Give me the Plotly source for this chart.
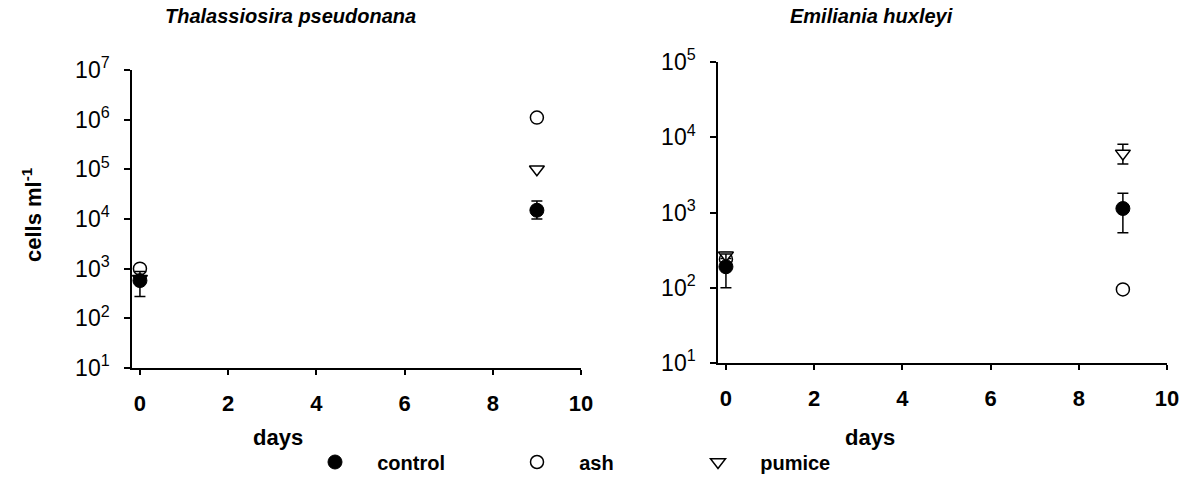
import plotly.graph_objects as go

# ---- data ----
days = [0, 9]

# Thalassiosira pseudonana
tp_control = [575, 15000]
tp_control_plus = [300, 8000]
tp_control_minus = [300, 5000]
tp_ash = [1000, 1100000]
tp_pumice = [630, 100000]

# Emiliania huxleyi
eh_control = [190, 1130]
eh_control_plus = [90, 670]
eh_control_minus = [90, 590]
eh_ash = [240, 95]
eh_pumice = [270, 6100]
eh_pumice_plus = [25, 2000]
eh_pumice_minus = [25, 1700]

left_yticks = [10**k for k in range(1, 8)]
left_yticktext = ["10<sup>%d</sup>" % k for k in range(1, 8)]
right_yticks = [10**k for k in range(1, 6)]
right_yticktext = ["10<sup>%d</sup>" % k for k in range(1, 6)]
xticks = [0, 2, 4, 6, 8, 10]

FONT = "Liberation Sans, Arial, sans-serif"
NB = "\u00a0"
W, H = 1186, 490


def px(X):
    return X / W


def py(Y):
    return 1 - Y / H


fig = go.Figure()


def err(plus, minus=None):
    d = dict(type="data", array=plus, visible=True, color="black",
             thickness=1.5, width=5.5)
    if minus is not None:
        d["symmetric"] = False
        d["arrayminus"] = minus
    return d


open_line = dict(color="black", width=1.5)

# left panel
fig.add_trace(go.Scatter(x=days, y=tp_ash, mode="markers", xaxis="x", yaxis="y",
                         marker=dict(symbol="circle", size=13, color="white", line=open_line),
                         name=NB * 4 + "ash", legend="legend2", showlegend=True))
fig.add_trace(go.Scatter(x=days, y=tp_pumice, mode="markers", xaxis="x", yaxis="y",
                         marker=dict(symbol="triangle-down", size=13, color="white", line=open_line),
                         name=NB * 4 + "pumice", legend="legend3", showlegend=True))
fig.add_trace(go.Scatter(x=days, y=tp_control, mode="markers", xaxis="x", yaxis="y",
                         error_y=err(tp_control_plus, tp_control_minus),
                         marker=dict(symbol="circle", size=14, color="black", line=dict(color="black", width=1)),
                         name=NB * 4 + "control", legend="legend", showlegend=True))

# right panel
fig.add_trace(go.Scatter(x=days, y=eh_ash, mode="markers", xaxis="x2", yaxis="y2",
                         marker=dict(symbol="circle", size=13, color="white", line=open_line),
                         showlegend=False))
fig.add_trace(go.Scatter(x=days, y=eh_pumice, mode="markers", xaxis="x2", yaxis="y2",
                         error_y=err(eh_pumice_plus, eh_pumice_minus),
                         marker=dict(symbol="triangle-down", size=13, color="white", line=open_line),
                         showlegend=False))
fig.add_trace(go.Scatter(x=days, y=eh_control, mode="markers", xaxis="x2", yaxis="y2",
                         error_y=err(eh_control_plus, eh_control_minus),
                         marker=dict(symbol="circle", size=14, color="black", line=dict(color="black", width=1)),
                         showlegend=False))

xcommon = dict(range=[-0.18, 10], tickvals=xticks, ticks="outside", ticklen=5,
               tickwidth=1.5, tickcolor="black", showline=True, linecolor="black",
               linewidth=1.5, showgrid=False, zeroline=False,
               tickfont=dict(family=FONT, size=22, color="black", weight="bold"),
               ticklabelstandoff=10)
ycommon = dict(type="log", ticks="outside", ticklen=6, tickwidth=1.5, tickcolor="black",
               showline=True, linecolor="black", linewidth=1.5, showgrid=False,
               zeroline=False, tickfont=dict(family=FONT, size=23, color="black"),
               ticklabelstandoff=10)

legend_common = dict(orientation="h", y=py(462), yanchor="middle", xanchor="left",
                     bgcolor="rgba(0,0,0,0)", borderwidth=0,
                     font=dict(family=FONT, size=20, color="black", weight="bold"))

fig.update_layout(
    width=W, height=H, autosize=False,
    margin=dict(l=0, r=0, t=0, b=0, pad=0, autoexpand=False),
    paper_bgcolor="white", plot_bgcolor="white",
    xaxis=dict(domain=[px(132), px(581)], anchor="y", **xcommon),
    yaxis=dict(domain=[py(368), py(70)], anchor="x", range=[1, 7],
               tickvals=left_yticks, ticktext=left_yticktext, **ycommon),
    xaxis2=dict(domain=[px(718), px(1167)], anchor="y2", **xcommon),
    yaxis2=dict(domain=[py(363), py(62)], anchor="x2", range=[1, 5],
                tickvals=right_yticks, ticktext=right_yticktext, **ycommon),
    legend=dict(x=px(315), **legend_common),
    legend2=dict(x=px(517), **legend_common),
    legend3=dict(x=px(698), **legend_common),
    annotations=[
        dict(text="<b><i>Thalassiosira pseudonana</i></b>", x=px(290), y=py(16),
             xref="paper", yref="paper", showarrow=False, xanchor="center", yanchor="middle",
             font=dict(family=FONT, size=20, color="black")),
        dict(text="<b><i>Emiliania huxleyi</i></b>", x=px(871), y=py(16),
             xref="paper", yref="paper", showarrow=False, xanchor="center", yanchor="middle",
             font=dict(family=FONT, size=20, color="black")),
        dict(text="<b>days</b>", x=px(278), y=py(437),
             xref="paper", yref="paper", showarrow=False, xanchor="center", yanchor="middle",
             font=dict(family=FONT, size=22, color="black")),
        dict(text="<b>days</b>", x=px(870), y=py(437),
             xref="paper", yref="paper", showarrow=False, xanchor="center", yanchor="middle",
             font=dict(family=FONT, size=22, color="black")),
        dict(text="<b>cells ml<sup>-1</sup></b>", x=px(32), y=py(215),
             xref="paper", yref="paper", showarrow=False, xanchor="center", yanchor="middle",
             textangle=-90, font=dict(family=FONT, size=22, color="black")),
    ],
)

fig.write_html("out.html",
               config={"displayModeBar": False},
               post_script="document.body.style.margin='0';document.body.style.padding='0';")
